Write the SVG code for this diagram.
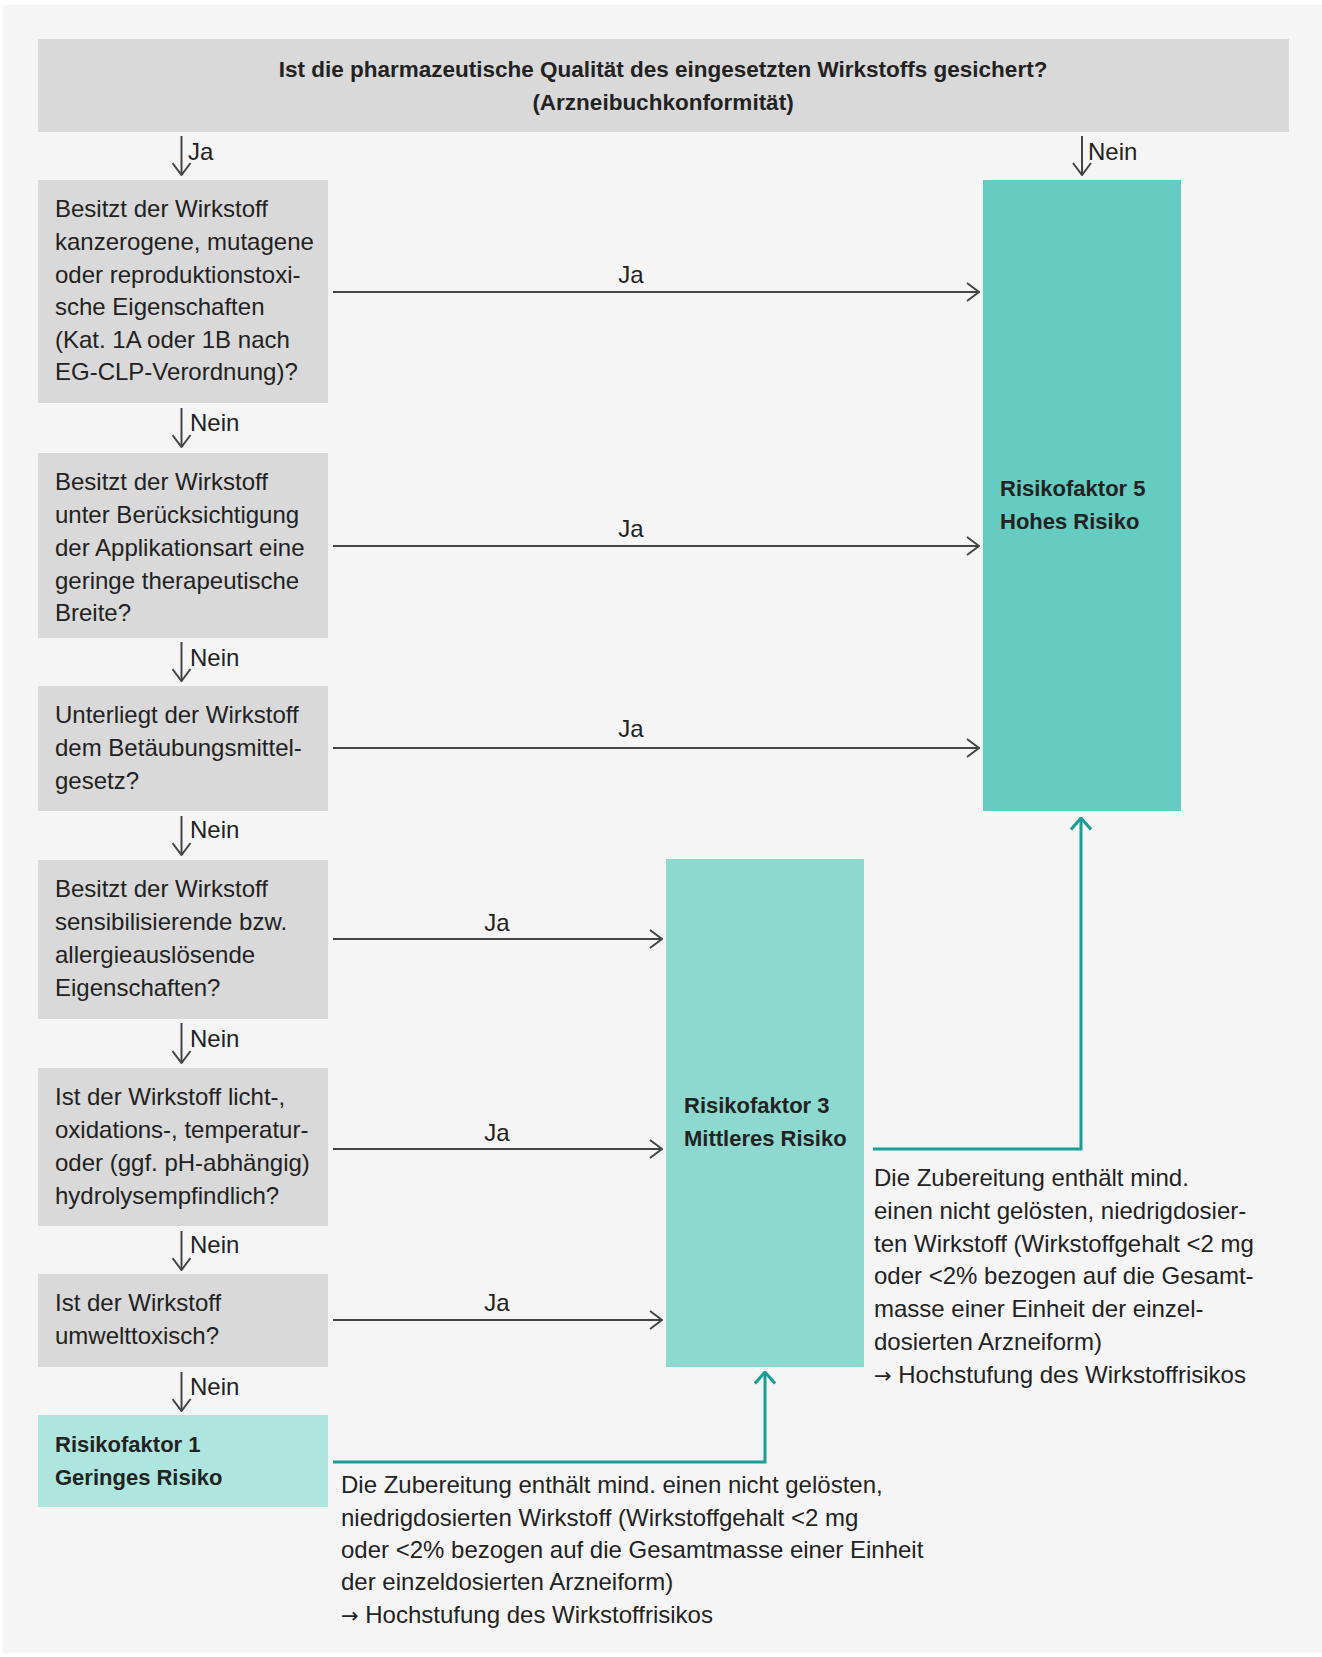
<svg xmlns="http://www.w3.org/2000/svg" width="1322" height="1657" viewBox="0 0 1322 1657">
<style>
text{font-family:"Liberation Sans",Arial,sans-serif;fill:#222;}
.b{font-size:24px;}
.t{font-size:22.5px;font-weight:bold;}
.r{font-size:22px;font-weight:bold;}
.arr{font-family:"DejaVu Sans",sans-serif;font-size:21px;}
.gray{fill:#d9d9d9;}
.ln{stroke:#444;stroke-width:2;fill:none;}
.tl{stroke:#1a9e96;stroke-width:3;fill:none;}
</style>
<defs>
<marker id="ah" viewBox="0 0 14 20" refX="13" refY="10" markerWidth="14" markerHeight="20" markerUnits="userSpaceOnUse" orient="auto">
<path d="M1,1 L13,10 L1,19" fill="none" stroke="#444" stroke-width="2"/>
</marker>
<marker id="at" viewBox="0 0 14 22" refX="12.5" refY="11" markerWidth="14" markerHeight="22" markerUnits="userSpaceOnUse" orient="auto">
<path d="M1,1 L12.5,11 L1,21" fill="none" stroke="#1a9e96" stroke-width="3"/>
</marker>
</defs>
<rect x="0" y="0" width="1322" height="1657" fill="#ffffff"/>
<rect x="3" y="5" width="1319" height="1648" fill="#f5f5f5"/>

<g id="q0">
<rect class="gray" x="38" y="39" width="1251" height="93"/>
<text class="t" x="663" y="77" text-anchor="middle">Ist die pharmazeutische Qualität des eingesetzten Wirkstoffs gesichert?</text>
<text class="t" x="663" y="110" text-anchor="middle">(Arzneibuchkonformität)</text>
</g>

<g id="q1">
<rect class="gray" x="38" y="180" width="290" height="223"/>
<text class="b" x="55" y="217">Besitzt der Wirkstoff</text>
<text class="b" x="55" y="250">kanzerogene, mutagene</text>
<text class="b" x="55" y="283">oder reproduktionstoxi-</text>
<text class="b" x="55" y="315">sche Eigenschaften</text>
<text class="b" x="55" y="348">(Kat. 1A oder 1B nach</text>
<text class="b" x="55" y="380">EG-CLP-Verordnung)?</text>
</g>

<g id="q2">
<rect class="gray" x="38" y="453" width="290" height="185"/>
<text class="b" x="55" y="490">Besitzt der Wirkstoff</text>
<text class="b" x="55" y="523">unter Berücksichtigung</text>
<text class="b" x="55" y="556">der Applikationsart eine</text>
<text class="b" x="55" y="589">geringe therapeutische</text>
<text class="b" x="55" y="621">Breite?</text>
</g>

<g id="q3">
<rect class="gray" x="38" y="686" width="290" height="125"/>
<text class="b" x="55" y="723">Unterliegt der Wirkstoff</text>
<text class="b" x="55" y="756">dem Betäubungsmittel-</text>
<text class="b" x="55" y="789">gesetz?</text>
</g>

<g id="q4">
<rect class="gray" x="38" y="860" width="290" height="159"/>
<text class="b" x="55" y="897">Besitzt der Wirkstoff</text>
<text class="b" x="55" y="930">sensibilisierende bzw.</text>
<text class="b" x="55" y="963">allergieauslösende</text>
<text class="b" x="55" y="996">Eigenschaften?</text>
</g>

<g id="q5">
<rect class="gray" x="38" y="1068" width="290" height="158"/>
<text class="b" x="55" y="1105">Ist der Wirkstoff licht-,</text>
<text class="b" x="55" y="1138">oxidations-, temperatur-</text>
<text class="b" x="55" y="1171">oder (ggf. pH-abhängig)</text>
<text class="b" x="55" y="1204">hydrolysempfindlich?</text>
</g>

<g id="q6">
<rect class="gray" x="38" y="1274" width="290" height="93"/>
<text class="b" x="55" y="1311">Ist der Wirkstoff</text>
<text class="b" x="55" y="1344">umwelttoxisch?</text>
</g>

<g id="rf1">
<rect x="38" y="1415" width="290" height="92" fill="#aee6df"/>
<text class="r" x="55" y="1452">Risikofaktor 1</text>
<text class="r" x="55" y="1485">Geringes Risiko</text>
</g>

<g id="rf3">
<rect x="666" y="859" width="198" height="508" fill="#8dd9d0"/>
<text class="r" x="684" y="1113">Risikofaktor 3</text>
<text class="r" x="684" y="1146">Mittleres Risiko</text>
</g>

<g id="rf5">
<rect x="983" y="180" width="198" height="631" fill="#66cbc0"/>
<text class="r" x="1000" y="496">Risikofaktor 5</text>
<text class="r" x="1000" y="529">Hohes Risiko</text>
</g>

<g id="connectors">
<line class="ln" x1="181.5" y1="136" x2="181.5" y2="175" marker-end="url(#ah)"/>
<line class="ln" x1="181.5" y1="408" x2="181.5" y2="447" marker-end="url(#ah)"/>
<line class="ln" x1="181.5" y1="642" x2="181.5" y2="681" marker-end="url(#ah)"/>
<line class="ln" x1="181.5" y1="816" x2="181.5" y2="855" marker-end="url(#ah)"/>
<line class="ln" x1="181.5" y1="1023" x2="181.5" y2="1063" marker-end="url(#ah)"/>
<line class="ln" x1="181.5" y1="1231" x2="181.5" y2="1270" marker-end="url(#ah)"/>
<line class="ln" x1="181.5" y1="1372" x2="181.5" y2="1411" marker-end="url(#ah)"/>
<line class="ln" x1="1082" y1="136" x2="1082" y2="175" marker-end="url(#ah)"/>

<line class="ln" x1="333" y1="292" x2="979" y2="292" marker-end="url(#ah)"/>
<line class="ln" x1="333" y1="546" x2="979" y2="546" marker-end="url(#ah)"/>
<line class="ln" x1="333" y1="748" x2="979" y2="748" marker-end="url(#ah)"/>
<line class="ln" x1="333" y1="939" x2="662" y2="939" marker-end="url(#ah)"/>
<line class="ln" x1="333" y1="1149" x2="662" y2="1149" marker-end="url(#ah)"/>
<line class="ln" x1="333" y1="1320" x2="662" y2="1320" marker-end="url(#ah)"/>

<polyline class="tl" points="873,1149 1081,1149 1081,818" marker-end="url(#at)"/>
<polyline class="tl" points="333,1462 765,1462 765,1372" marker-end="url(#at)"/>

<text class="b" x="188" y="160">Ja</text>
<text class="b" x="190" y="431">Nein</text>
<text class="b" x="190" y="666">Nein</text>
<text class="b" x="190" y="838">Nein</text>
<text class="b" x="190" y="1047">Nein</text>
<text class="b" x="190" y="1253">Nein</text>
<text class="b" x="190" y="1395">Nein</text>
<text class="b" x="1088" y="160">Nein</text>

<text class="b" x="631" y="283" text-anchor="middle">Ja</text>
<text class="b" x="631" y="537" text-anchor="middle">Ja</text>
<text class="b" x="631" y="737" text-anchor="middle">Ja</text>
<text class="b" x="497" y="931" text-anchor="middle">Ja</text>
<text class="b" x="497" y="1141" text-anchor="middle">Ja</text>
<text class="b" x="497" y="1311" text-anchor="middle">Ja</text>

<text class="b" x="874" y="1186">Die Zubereitung enthält mind.</text>
<text class="b" x="874" y="1219">einen nicht gelösten, niedrigdosier-</text>
<text class="b" x="874" y="1252">ten Wirkstoff (Wirkstoffgehalt &lt;2 mg</text>
<text class="b" x="874" y="1284">oder &lt;2% bezogen auf die Gesamt-</text>
<text class="b" x="874" y="1317">masse einer Einheit der einzel-</text>
<text class="b" x="874" y="1350">dosierten Arzneiform)</text>
<text class="b" x="874" y="1383"><tspan class="arr">→</tspan> Hochstufung des Wirkstoffrisikos</text>

<text class="b" x="341" y="1493">Die Zubereitung enthält mind. einen nicht gelösten,</text>
<text class="b" x="341" y="1526">niedrigdosierten Wirkstoff (Wirkstoffgehalt &lt;2 mg</text>
<text class="b" x="341" y="1558">oder &lt;2% bezogen auf die Gesamtmasse einer Einheit</text>
<text class="b" x="341" y="1590">der einzeldosierten Arzneiform)</text>
<text class="b" x="341" y="1623"><tspan class="arr">→</tspan> Hochstufung des Wirkstoffrisikos</text>
</g>
</svg>
